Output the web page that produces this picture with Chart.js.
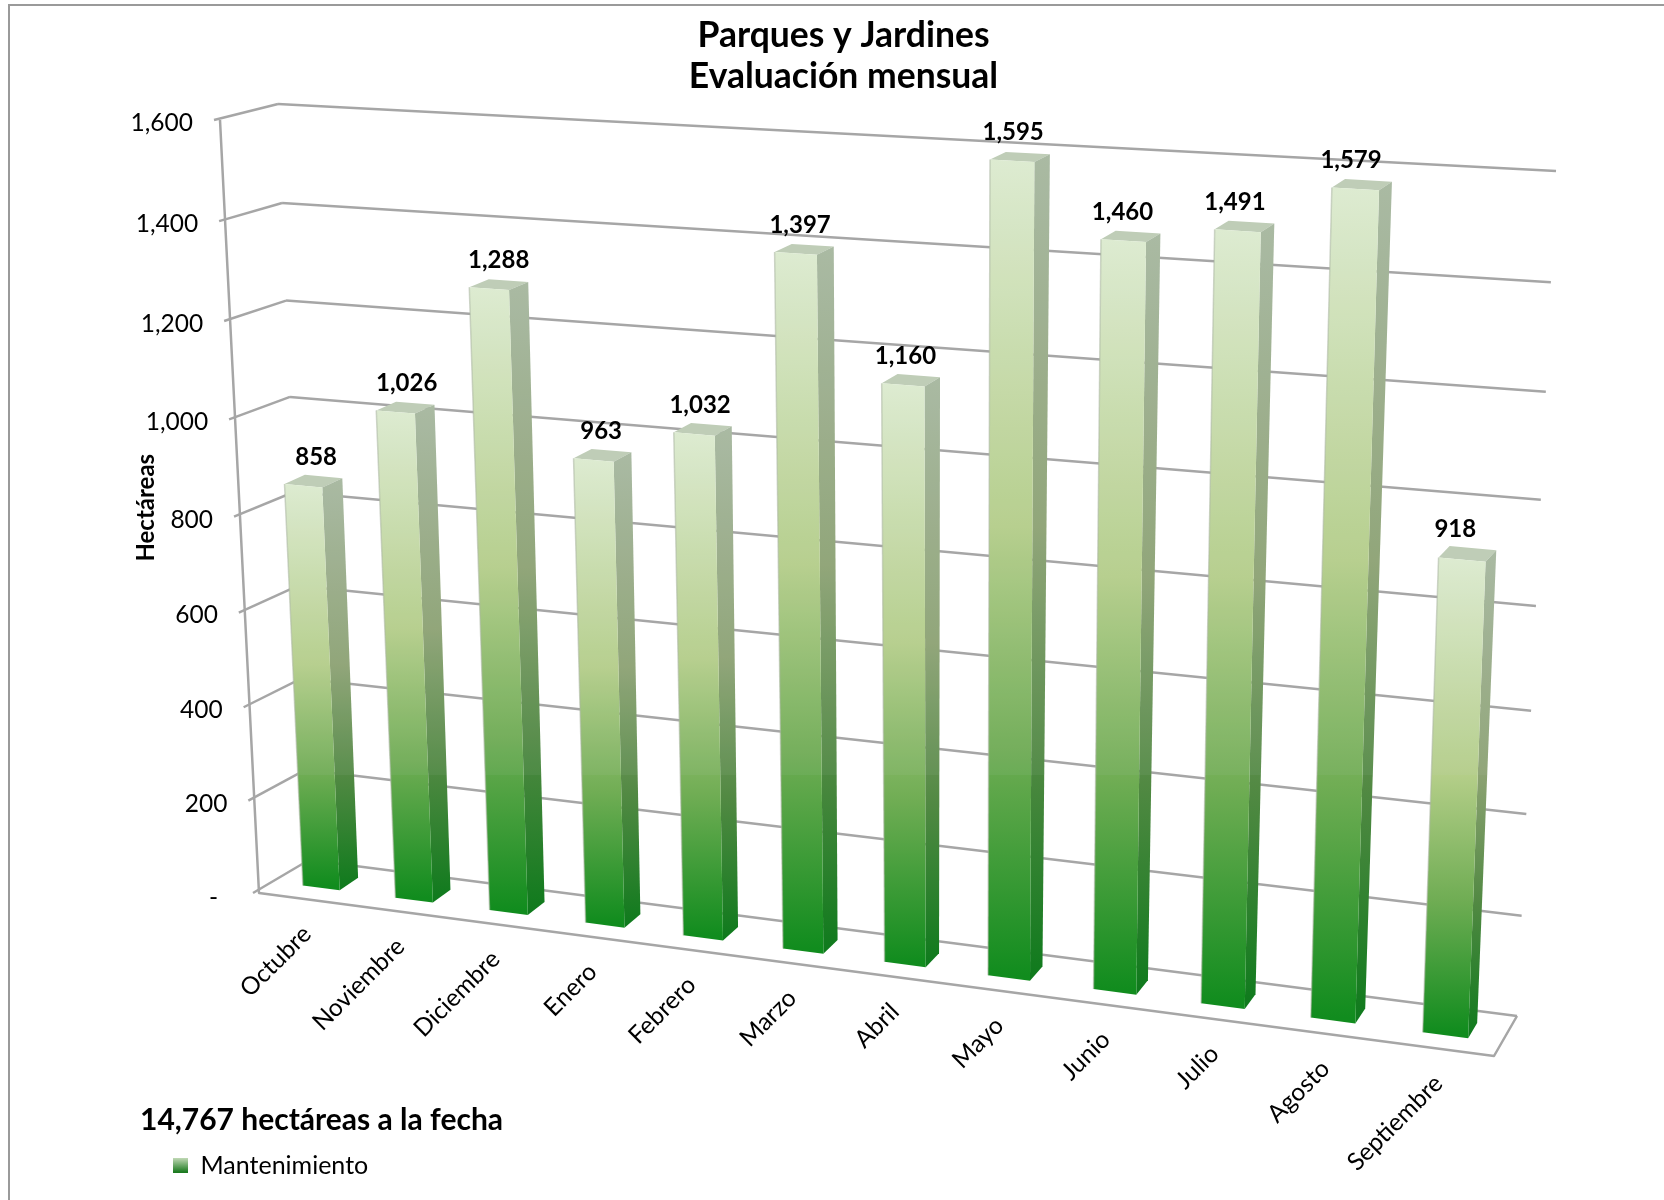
<!DOCTYPE html>
<html><head><meta charset="utf-8">
<style>html,body{margin:0;padding:0;background:#fff}canvas{display:block}</style>
<script src="https://cdn.jsdelivr.net/npm/chart.js@4/dist/chart.umd.js"></script>
</head><body>
<canvas id="c" width="1664" height="1200"></canvas>
<script>
const categories = ['Octubre','Noviembre','Diciembre','Enero','Febrero','Marzo','Abril','Mayo','Junio','Julio','Agosto','Septiembre'];
const hectareas = [858,1026,1288,963,1032,1397,1160,1595,1460,1491,1579,918];
const seriesName = 'Mantenimiento';
const titleLines = ['Parques y Jardines','Evaluación mensual'];
const totalNote = '14,767 hectáreas a la fecha';
const yAxisTitle = 'Hectáreas';

const FONT = 'Lato';
const GRID = '#A6A6A6';
const fmt = v => v.toLocaleString('en-US');

// perspective view of the chart box: corners of the front and the back plane (TL, TR, BR, BL)
function homography(q){
  const [x0,y0]=q[0],[x1,y1]=q[1],[x2,y2]=q[2],[x3,y3]=q[3];
  const dx1=x1-x2,dx2=x3-x2,sx=x0-x1+x2-x3,dy1=y1-y2,dy2=y3-y2,sy=y0-y1+y2-y3;
  const den=dx1*dy2-dx2*dy1;
  const g=(sx*dy2-dx2*sy)/den,h=(dx1*sy-sx*dy1)/den;
  const a=x1-x0+g*x1,b=x3-x0+h*x3,d=y1-y0+g*y1,e=y3-y0+h*y3;
  return (u,v)=>{const w=g*u+h*v+1;return [(a*u+b*v+x0)/w,(d*u+e*v+y0)/w];};
}
const frontPlane = homography([[220,120],[1525,194],[1494,1056],[259,893]]);
const backPlane  = homography([[278,104],[1556,171],[1517,1016],[309,860]]);
const D1 = 0.30, D2 = 0.68, BAR_SHIFT = 1.5;
function project(chart,px,py,d){
  const A=chart.chartArea,u=(px-A.left)/(A.right-A.left),v=(py-A.top)/(A.bottom-A.top);
  const f=frontPlane(u,v),b=backPlane(u,v);
  return [f[0]+(b[0]-f[0])*d,f[1]+(b[1]-f[1])*d];
}
function poly(ctx,pts){ctx.beginPath();pts.forEach((p,i)=>i?ctx.lineTo(p[0],p[1]):ctx.moveTo(p[0],p[1]));ctx.closePath();}
function grad(ctx,y0,y1,stops){const g=ctx.createLinearGradient(0,y0,0,y1);stops.forEach(s=>g.addColorStop(s[0],s[1]));return g;}
const FRONT_STOPS=[[0,'#DFEDD1'],[.45,'#B6CF8A'],[.72,'#70AD54'],[1,'#118C1E']];
const SIDE_STOPS =[[0,'#A8B8A0'],[.45,'#8EA374'],[.72,'#528943'],[1,'#0E7A1C']];
const BAND_Y = 775;

// bars are drawn by the library's bar element, in the perspective view
Chart.BarElement.prototype.draw = function(ctx){
  const chart=Chart.getChart(ctx.canvas);
  const {x,y,base,width}=this.getProps(['x','y','base','width'],true);
  const l=x-width/2,r=x+width/2;
  const P=(a,b,d)=>{const p=project(chart,a,b,d);return [p[0]+BAR_SHIFT,p[1]];};
  const ft=[P(l,y,D1),P(r,y,D1),P(r,base,D1),P(l,base,D1)];
  const sd=[P(r,y,D1),P(r,y,D2),P(r,base,D2),P(r,base,D1)];
  const tp=[P(l,y,D1),P(l,y,D2),P(r,y,D2),P(r,y,D1)];
  ctx.save();
  poly(ctx,tp);ctx.fillStyle='#BFCDB7';ctx.fill();
  poly(ctx,sd);ctx.fillStyle=grad(ctx,sd[1][1],sd[3][1],SIDE_STOPS);ctx.fill();
  poly(ctx,ft);ctx.fillStyle=grad(ctx,ft[0][1],ft[3][1],FRONT_STOPS);ctx.fill();
  ctx.strokeStyle='rgba(170,180,160,.55)';ctx.lineWidth=1.5;
  ctx.beginPath();ctx.moveTo(ft[0][0],ft[0][1]);ctx.lineTo(ft[3][0],ft[3][1]);ctx.stroke();
  // faint lighter band over the upper part of the columns
  [ft,sd].forEach(f=>{
    ctx.save();poly(ctx,f);ctx.clip();
    ctx.fillStyle='rgba(205,210,215,.07)';ctx.fillRect(0,0,1664,BAND_Y);
    ctx.restore();
  });
  ctx.restore();
};

const perspective = {
  id:'perspective',
  beforeDraw(chart){
    const ctx=chart.ctx,{x,y}=chart.scales;
    const A=chart.chartArea;
    // outer frame
    ctx.save();ctx.strokeStyle='#9A9A9A';ctx.lineWidth=2;
    ctx.beginPath();ctx.moveTo(9,1200);ctx.lineTo(9,5);ctx.lineTo(1664,5);ctx.stroke();ctx.restore();

    y._computeLabelArea=()=>undefined; x._computeLabelArea=()=>undefined;
    const yItems=y._gridLineItems||(y._gridLineItems=y._computeGridLineItems(A));
    yItems.forEach((it,i)=>{
      const py=y.getPixelForTick(i);
      const f=project(chart,A.left,py,0),bl=project(chart,A.left,py,1),br=project(chart,A.right,py,1);
      it.tx1=f[0]-6;it.ty1=f[1];it.tx2=bl[0];it.ty2=bl[1];
      it.x1=bl[0];it.y1=bl[1];it.x2=br[0];it.y2=br[1];
    });
    y.getLabelItems(A).forEach((it,i)=>{
      const py=y.getPixelForTick(i),f=project(chart,A.left,py,0);
      const zero=y.ticks[i].value===0;
      it.options.translation=[f[0]-(zero?41:27),f[1]+(zero?5:3)];
      it.options.textAlign='right';it.options.textBaseline='middle';it.textOffset=0;
    });
    x.getLabelItems(A).forEach((it,i)=>{
      const px=x.getPixelForTick(i),f=project(chart,px,A.bottom,0);
      it.options.translation=[f[0]+2,f[1]+31];
      it.options.rotation=-Math.PI/4;
      it.options.textAlign='right';it.options.textBaseline='middle';it.textOffset=0;
    });
  },
  beforeDatasetsDraw(chart){
    const ctx=chart.ctx,A=chart.chartArea;
    const a=project(chart,A.left,A.top,0),b=project(chart,A.left,A.bottom,0),
          c=project(chart,A.right,A.bottom,0),d=project(chart,A.right,A.bottom,1);
    ctx.save();ctx.strokeStyle=GRID;ctx.lineWidth=2.5;ctx.lineJoin='round';
    ctx.beginPath();ctx.moveTo(a[0],a[1]);ctx.lineTo(b[0],b[1]);ctx.lineTo(c[0],c[1]);ctx.lineTo(d[0],d[1]);ctx.stroke();
    ctx.restore();
  },
  afterDatasetsDraw(chart){
    const ctx=chart.ctx,meta=chart.getDatasetMeta(0),A=chart.chartArea;
    ctx.save();ctx.fillStyle='#000';ctx.font='bold 24px '+FONT;ctx.textAlign='center';ctx.textBaseline='middle';
    meta.data.forEach((bar,i)=>{
      const p=project(chart,bar.x,bar.y,(0.28+0.64)/2);
      const u=(bar.x-A.left)/(A.right-A.left);
      ctx.fillText(fmt(hectareas[i]),p[0]+1+5.5-17*u,p[1]-25);
    });
    ctx.restore();
  },
  afterLayout(chart){
    const L=chart.legend;
    L.left=140;L.right=800;L.top=1105;L.bottom=1190;
  }
};

new Chart(document.getElementById('c'),{
  type:'bar',
  data:{labels:categories,datasets:[{label:seriesName,data:hectareas,backgroundColor:'#7DB35A',clip:false,barPercentage:0.40,categoryPercentage:1}]},
  plugins:[perspective],
  options:{
    responsive:false,animation:false,
    layout:{padding:{left:132,right:109,top:0,bottom:0}},
    plugins:{
      tooltip:{enabled:false},
      title:{display:true,text:titleLines,color:'#000',font:{family:FONT,size:35.5,weight:'bold',lineHeight:1.14},padding:{top:15.5,bottom:24}},
      legend:{
        position:'bottom',align:'start',
        title:{display:true,text:totalNote,position:'start',color:'#000',font:{family:FONT,size:30,weight:'bold'},padding:{top:0,bottom:-21}},
        labels:{
          padding:33,boxWidth:15,boxHeight:15,color:'#000',font:{family:FONT,size:25},
          generateLabels(chart){
            const g=chart.ctx.createLinearGradient(0,1156,0,1172);
            g.addColorStop(0,'#D8E6CA');g.addColorStop(1,'#1C7A20');
            return [{text:seriesName,fillStyle:g,strokeStyle:'rgba(0,0,0,0)',lineWidth:0,datasetIndex:0,hidden:false}];
          }
        }
      }
    },
    scales:{
      x:{
        grid:{display:false},border:{display:false},
        ticks:{autoSkip:false,minRotation:45,maxRotation:45,color:'#000',font:{family:FONT,size:24.5}},
        afterFit(s){s.height=222;}
      },
      y:{
        min:0,max:1600,
        grid:{color:GRID,lineWidth:2.5,tickColor:GRID,tickWidth:2.5,drawTicks:true,tickLength:6},
        border:{display:false},
        ticks:{stepSize:200,color:'#000',font:{family:FONT,size:24.5},callback:v=>v===0?'-':fmt(v)},
        title:{display:true,text:yAxisTitle,color:'#000',font:{family:FONT,size:24,weight:'bold'},padding:{top:0,bottom:4}}
      }
    }
  }
});
</script>
</body></html>
